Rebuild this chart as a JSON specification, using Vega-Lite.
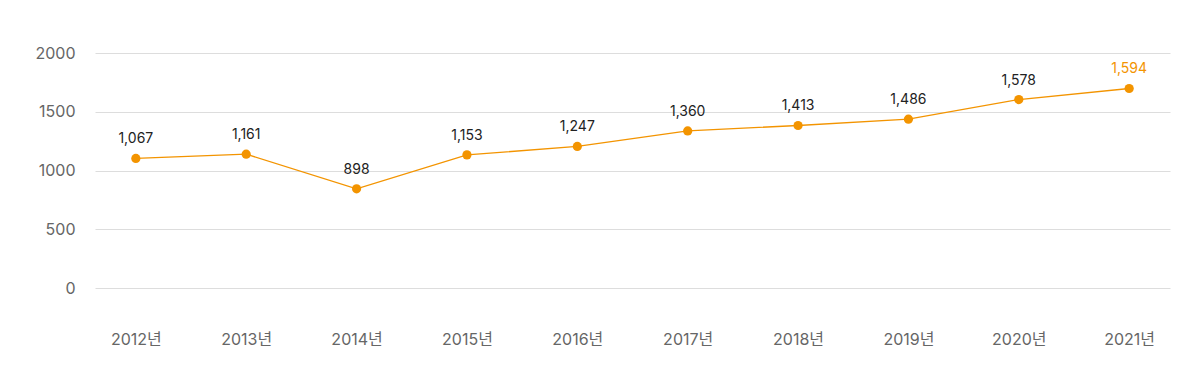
{
  "$schema": "https://vega.github.io/schema/vega-lite/v6.json",
  "width": 1075,
  "height": 235,
  "autosize": {"type": "none"},
  "padding": {"left": 95, "top": 53, "right": 30, "bottom": 96},
  "background": "white",
  "config": {
    "view": {"stroke": null},
    "font": "Inter, Noto Sans CJK KR"
  },
  "data": {
    "values": [
      {"year": "2012년", "pos": 1103, "label": "1,067"},
      {"year": "2013년", "pos": 1139, "label": "1,161"},
      {"year": "2014년", "pos": 844, "label": "898"},
      {"year": "2015년", "pos": 1133, "label": "1,153"},
      {"year": "2016년", "pos": 1205, "label": "1,247"},
      {"year": "2017년", "pos": 1337, "label": "1,360"},
      {"year": "2018년", "pos": 1383, "label": "1,413"},
      {"year": "2019년", "pos": 1437, "label": "1,486"},
      {"year": "2020년", "pos": 1604, "label": "1,578"},
      {"year": "2021년", "pos": 1698, "label": "1,594"}
    ]
  },
  "encoding": {
    "x": {
      "field": "year",
      "type": "ordinal",
      "sort": null,
      "scale": {"type": "point", "padding": 0.37},
      "axis": {
        "title": null,
        "labelAngle": 0,
        "ticks": false,
        "domain": false,
        "labelFontSize": 16,
        "labelColor": "#666666",
        "labelPadding": 43
      }
    },
    "y": {
      "field": "pos",
      "type": "quantitative",
      "scale": {"domain": [0, 2000], "nice": false},
      "axis": {
        "title": null,
        "values": [0, 500, 1000, 1500, 2000],
        "format": "d",
        "ticks": false,
        "domain": false,
        "labelFontSize": 16,
        "labelColor": "#666666",
        "labelPadding": 20,
        "gridColor": "#dddddd",
        "gridWidth": 1
      }
    }
  },
  "layer": [
    {"mark": {"type": "line", "color": "#f39400", "strokeWidth": 1.3}},
    {"mark": {"type": "point", "filled": true, "opacity": 1, "color": "#f39400", "size": 85}},
    {
      "mark": {"type": "text", "dy": -19, "fontSize": 14, "baseline": "middle"},
      "encoding": {
        "text": {"field": "label"},
        "color": {
          "condition": {"test": "datum.year === '2021년'", "value": "#f39400"},
          "value": "#222222"
        }
      }
    }
  ]
}
